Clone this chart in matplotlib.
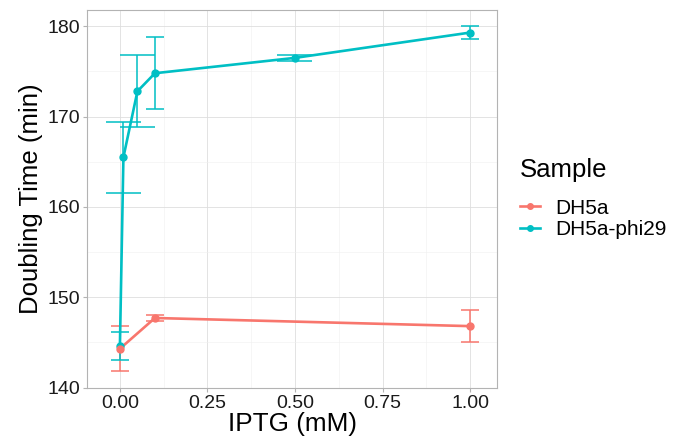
import numpy as np
import matplotlib.pyplot as plt
from matplotlib.lines import Line2D

plt.rcParams['font.family'] = ['Liberation Sans', 'DejaVu Sans']

# dados
samples = ['DH5a', 'DH5a-phi29']
colors = ['#F8766D', '#00BFC4']

iptg_dh5a = [0.0, 0.1, 1.0]
dt_dh5a = [144.3, 147.7, 146.8]
sd_dh5a = [2.5, 0.35, 1.8]

iptg_phi29 = [0.0, 0.01, 0.05, 0.1, 0.5, 1.0]
dt_phi29 = [144.6, 165.5, 172.8, 174.8, 176.5, 179.3]
sd_phi29 = [1.5, 3.95, 4.0, 4.0, 0.3, 0.7]

# largura das barras de erro (em mM)
cap_dh5a = [0.05, 0.05, 0.05]
cap_phi29 = [0.05, 0.1, 0.1, 0.05, 0.1, 0.05]

series = [
    (iptg_dh5a, dt_dh5a, sd_dh5a, cap_dh5a),
    (iptg_phi29, dt_phi29, sd_phi29, cap_phi29),
]

fig = plt.figure(figsize=(6.83, 4.43), dpi=100)
ax = fig.add_axes([87 / 683, 55 / 443, 410 / 683, 378 / 443])

for (x, y, sd, cw), c in zip(series, colors):
    x = np.array(x)
    y = np.array(y)
    sd = np.array(sd)
    cw = np.array(cw)
    ax.vlines(x, y - sd, y + sd, color=c, lw=1.1, zorder=2)
    ax.hlines(y - sd, x - cw / 2, x + cw / 2, color=c, lw=1.1, zorder=2)
    ax.hlines(y + sd, x - cw / 2, x + cw / 2, color=c, lw=1.1, zorder=2)

for (x, y, sd, cw), c in zip(series, colors):
    ax.plot(x, y, color=c, lw=1.9, zorder=3, solid_capstyle='butt')
# pontos do DH5a por cima
for (x, y, sd, cw), c, z in zip(series, colors, [5, 4]):
    ax.plot(x, y, 'o', color=c, ms=5, zorder=z)

ax.set_xlim(-0.094, 1.077)
ax.set_ylim(139.95, 181.8)
ax.set_xticks([0, 0.25, 0.5, 0.75, 1.0])
ax.set_xticklabels(['0.00', '0.25', '0.50', '0.75', '1.00'])
ax.set_yticks([140, 150, 160, 170, 180])
ax.set_xticks([0.125, 0.375, 0.625, 0.875], minor=True)
ax.set_yticks([145, 155, 165, 175], minor=True)

ax.grid(True, which='major', color='#DEDEDE', lw=0.6, zorder=0)
ax.grid(True, which='minor', color='#EFEFEF', lw=0.4, zorder=0)
ax.set_axisbelow(True)
for s in ax.spines.values():
    s.set_color('#B3B3B3')
    s.set_linewidth(0.8)
ax.tick_params(which='major', length=3, color='#B3B3B3', labelsize=14, labelcolor='#1A1A1A', pad=2)
ax.tick_params(which='minor', length=0)

ax.set_xlabel('IPTG (mM)', fontsize=18.8, labelpad=0)
ax.set_ylabel('Doubling Time (min)', fontsize=18.5, labelpad=3)

# legenda
fig.text(520 / 683, 1 - 170.5 / 443, 'Sample', fontsize=18.5, ha='left', va='center')
handles = [Line2D([0], [0], color=c, lw=1.9, marker='o', ms=4) for c in colors]
fig.legend(handles, samples, loc='center left',
           bbox_to_anchor=(520 / 683, 1 - 219 / 443), frameon=False,
           fontsize=15, handlelength=0.97, handletextpad=0.7,
           labelspacing=0.12, borderpad=0, borderaxespad=0)

fig.savefig('out.png', dpi=100)
